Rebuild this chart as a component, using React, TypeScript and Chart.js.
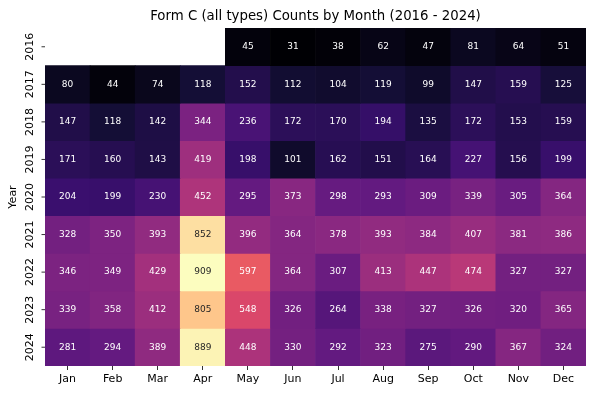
import React, { useEffect, useRef } from "react";
import { Chart, registerables } from "chart.js";

Chart.register(...registerables);

const TITLE = "Form C (all types) Counts by Month (2016 - 2024)";
const Y_LABEL = "Year";
const months = ["Jan", "Feb", "Mar", "Apr", "May", "Jun", "Jul", "Aug", "Sep", "Oct", "Nov", "Dec"];
const years = ["2016", "2017", "2018", "2019", "2020", "2021", "2022", "2023", "2024"];

const y2016 = [null, null, null, null, 45, 31, 38, 62, 47, 81, 64, 51];
const y2017 = [80, 44, 74, 118, 152, 112, 104, 119, 99, 147, 159, 125];
const y2018 = [147, 118, 142, 344, 236, 172, 170, 194, 135, 172, 153, 159];
const y2019 = [171, 160, 143, 419, 198, 101, 162, 151, 164, 227, 156, 199];
const y2020 = [204, 199, 230, 452, 295, 373, 298, 293, 309, 339, 305, 364];
const y2021 = [328, 350, 393, 852, 396, 364, 378, 393, 384, 407, 381, 386];
const y2022 = [346, 349, 429, 909, 597, 364, 307, 413, 447, 474, 327, 327];
const y2023 = [339, 358, 412, 805, 548, 326, 264, 338, 327, 326, 320, 365];
const y2024 = [281, 294, 389, 889, 448, 330, 292, 323, 275, 290, 367, 324];

const rows: (number | null)[][] = [y2016, y2017, y2018, y2019, y2020, y2021, y2022, y2023, y2024];

const MAGMA = [
  "#000004", "#140e36", "#3b0f70", "#641a80", "#8c2981", "#b73779",
  "#de4968", "#f7705c", "#fe9f6d", "#fecf92", "#fcfdbf",
];

function hexToRgb(h: string): number[] {
  return [1, 3, 5].map((i) => parseInt(h.slice(i, i + 2), 16));
}

const allVals = rows.flat().filter((v) => v != null) as number[];
const VMIN = Math.min(...allVals);
const VMAX = Math.max(...allVals);

function magmaRgb(v: number): number[] {
  let t = (v - VMIN) / (VMAX - VMIN);
  t = Math.max(0, Math.min(1, t));
  const pos = t * (MAGMA.length - 1);
  const i = Math.min(Math.floor(pos), MAGMA.length - 2);
  const f = pos - i;
  const a = hexToRgb(MAGMA[i]);
  const b = hexToRgb(MAGMA[i + 1]);
  return a.map((c, k) => Math.round(c + (b[k] - c) * f));
}

function colorOf(v: number | null): string {
  if (v == null) return "rgba(0,0,0,0)";
  const [r, g, b] = magmaRgb(v);
  return `rgb(${r},${g},${b})`;
}

function textColorOf(v: number): string {
  const lin = magmaRgb(v).map((c) => {
    const s = c / 255;
    return s <= 0.03928 ? s / 12.92 : Math.pow((s + 0.055) / 1.055, 2.4);
  });
  const lum = 0.2126 * lin[0] + 0.7152 * lin[1] + 0.0722 * lin[2];
  return lum > 0.408 ? "#262626" : "#ffffff";
}

const FONT = "'DejaVu Sans', sans-serif";

const annotPlugin = {
  id: "heatAnnot",
  afterDatasetsDraw(chart: any) {
    const ctx = chart.ctx;
    const xs = chart.scales.x;
    const ys = chart.scales.y;
    const area = chart.chartArea;
    ctx.save();
    // cell annotations
    ctx.font = `9px ${FONT}`;
    ctx.textAlign = "center";
    ctx.textBaseline = "middle";
    rows.forEach((row, i) => {
      row.forEach((v, j) => {
        if (v == null) return;
        ctx.fillStyle = textColorOf(v);
        ctx.fillText(String(v), xs.getPixelForValue(j), ys.getPixelForValue(i + 0.5));
      });
    });
    // y ticks + labels
    ctx.strokeStyle = "#000";
    ctx.lineWidth = 0.8;
    ctx.fillStyle = "#000";
    ctx.font = `11px ${FONT}`;
    years.forEach((yr, i) => {
      const py = ys.getPixelForValue(i + 0.5);
      ctx.beginPath();
      ctx.moveTo(area.left - 3.5, py);
      ctx.lineTo(area.left, py);
      ctx.stroke();
      ctx.save();
      ctx.translate(30, py);
      ctx.rotate(-Math.PI / 2);
      ctx.fillText(yr, 0, 0);
      ctx.restore();
    });
    // y axis title
    ctx.save();
    ctx.translate(13.5, (area.top + area.bottom) / 2);
    ctx.rotate(-Math.PI / 2);
    ctx.fillText(Y_LABEL, 0, 0);
    ctx.restore();
    // chart title
    ctx.font = `13.3px ${FONT}`;
    ctx.textBaseline = "alphabetic";
    ctx.fillText(TITLE, (area.left + area.right) / 2, 20);
    ctx.restore();
  },
};

export default function App() {
  const ref = useRef<HTMLCanvasElement | null>(null);
  useEffect(() => {
    if (!ref.current) return;
    Chart.defaults.font.family = FONT;
    const chart = new Chart(ref.current, {
      type: "bar",
      data: {
        labels: months,
        datasets: years.map((yr, i) => ({
          label: yr,
          data: rows[i].map((v) => (v == null ? null : [i, i + 1])) as any,
          backgroundColor: rows[i].map((v) => colorOf(v)),
          borderWidth: 0,
          grouped: false,
          barPercentage: 1,
          categoryPercentage: 1,
        })),
      },
      options: {
        animation: false,
        responsive: false,
        devicePixelRatio: 1,
        layout: { padding: { top: 28, right: 9, left: 0, bottom: 0 } },
        plugins: {
          legend: { display: false },
          tooltip: { enabled: false },
          title: { display: false },
        },
        scales: {
          x: {
            type: "category",
            offset: true,
            grid: {
              display: true,
              drawOnChartArea: false,
              offset: false,
              tickLength: 4,
              tickColor: "#000",
              tickWidth: 0.8,
            },
            border: { display: false },
            ticks: { color: "#000", font: { size: 11, family: FONT }, padding: 3, maxRotation: 0, minRotation: 0 },
            afterFit: (s: any) => {
              s.height = 30;
            },
          },
          y: {
            type: "linear",
            min: 0,
            max: 9,
            reverse: true,
            grid: { display: false },
            border: { display: false },
            ticks: { display: false },
            afterFit: (s: any) => {
              s.width = 45;
            },
          },
        },
      },
      plugins: [annotPlugin],
    });
    return () => chart.destroy();
  }, []);
  return (
    <div style={{ position: "fixed", left: 0, top: 0, width: 595, height: 396, background: "#fff" }}>
      <canvas ref={ref} width={595} height={396} style={{ width: 595, height: 396, display: "block" }} />
    </div>
  );
}
